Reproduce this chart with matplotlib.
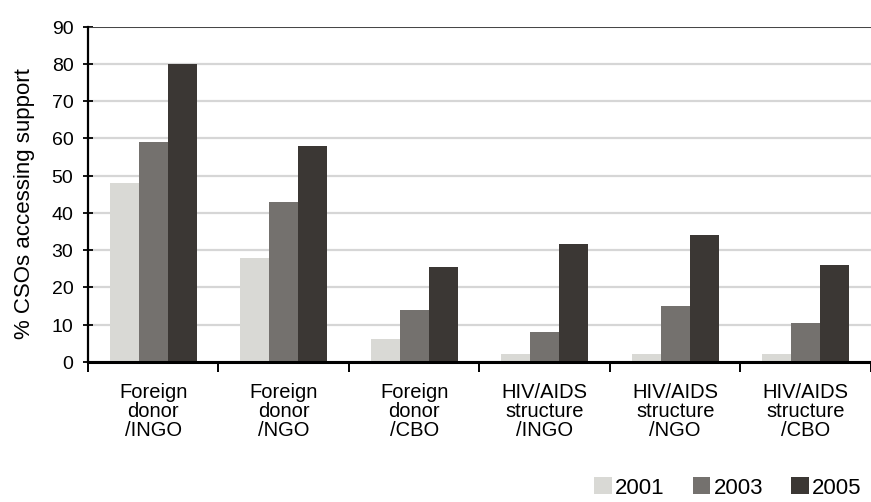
import numpy as np
import matplotlib.pyplot as plt
from matplotlib.patches import Patch

categories = [
    'Foreign\ndonor\n/INGO',
    'Foreign\ndonor\n/NGO',
    'Foreign\ndonor\n/CBO',
    'HIV/AIDS\nstructure\n/INGO',
    'HIV/AIDS\nstructure\n/NGO',
    'HIV/AIDS\nstructure\n/CBO',
]
years = ['2001', '2003', '2005']
vals_2001 = [48, 28, 6, 2, 2, 2]
vals_2003 = [59, 43, 14, 8, 15, 10.5]
vals_2005 = [80, 58, 25.5, 31.5, 34, 26]
colors = ['#d9d9d5', '#74716e', '#3b3734']

plt.rcParams['font.family'] = ['Liberation Sans', 'DejaVu Sans']

fig = plt.figure(figsize=(8.71, 5.025), dpi=100)
ax = fig.add_axes([0.101, 0.279, 0.899, 0.667])

x = np.arange(len(categories))
w = 0.222
for i, (vals, c) in enumerate(zip([vals_2001, vals_2003, vals_2005], colors)):
    ax.bar(x + (i - 1) * w, vals, w, color=c, zorder=2)

ax.set_ylim(0, 90)
ax.set_xlim(-0.44, 5.36)
ax.set_yticks(range(0, 91, 10))
ax.yaxis.grid(True, color='#d6d6d6', lw=1.6, zorder=0)
ax.set_axisbelow(True)

# boundaries between groups get the tick marks, group names sit in between
ax.set_xticks(np.arange(len(categories) + 1) - 0.5, minor=False)
ax.set_xticklabels([])
ax.set_xticks(x, minor=True)
ax.set_xticklabels(categories, minor=True, fontsize=14.5, linespacing=1.0)
ax.tick_params(axis='x', which='minor', length=0, pad=15)
ax.tick_params(axis='x', which='major', length=7, width=1.4, direction='out')
ax.tick_params(axis='y', length=7, width=1.3, direction='inout',
               labelsize=14, pad=7)

for s in ['top', 'right']:
    ax.spines[s].set_visible(False)
ax.spines['left'].set_linewidth(1.6)
ax.spines['bottom'].set_linewidth(2.2)
ax.axhline(90, color='#444444', lw=1.4, zorder=1)

ax.set_ylabel('% CSOs accessing support', fontsize=16)
ax.yaxis.set_label_coords(-0.068, 0.475)

handles = [Patch(facecolor=c, label=y) for c, y in zip(colors, years)]
fig.legend(handles=handles, loc='center right', bbox_to_anchor=(1.002, 0.028),
           ncol=3, frameon=False, fontsize=16, borderpad=0,
           handlelength=0.8, handleheight=0.8, handletextpad=0.15,
           columnspacing=1.25)

fig.savefig('out.png', dpi=100)
